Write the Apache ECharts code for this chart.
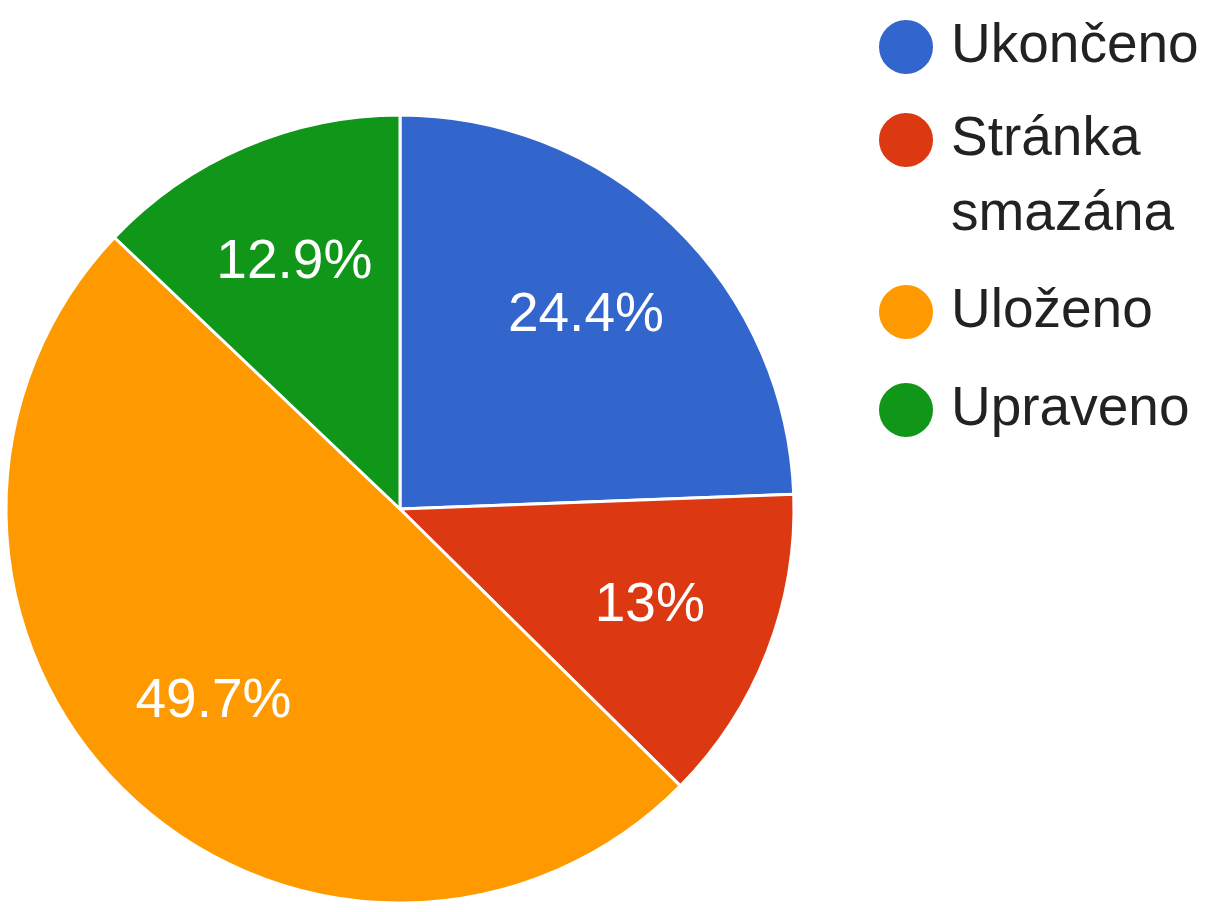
<!DOCTYPE html>
<html>
<head>
<meta charset="utf-8">
<script src="https://cdn.jsdelivr.net/npm/echarts@6/dist/echarts.min.js"></script>
<style>
  html, body { margin: 0; padding: 0; background: #fff; }
  #chart { width: 1208px; height: 912px; }
</style>
</head>
<body>
<div id="chart"></div>
<script>
var categories = ['Ukončeno', 'Stránka smazána', 'Uloženo', 'Upraveno'];
var values = [24.4, 13, 49.7, 12.9];
var colors = ['#3366cc', '#dc3912', '#ff9900', '#109618'];

var font = '"Liberation Sans", Arial, sans-serif';
var chart = echarts.init(document.getElementById('chart'));

var pieData = categories.map(function (name, i) {
    return { name: name, value: values[i] };
});

// one legend block per entry, so the wrapped entry keeps its dot on the first line
var legendTops = [17, 27.5, 282, 380];
var legends = categories.map(function (name, i) {
    var wrapped = name.indexOf(' ') > 0;
    return {
        orient: 'vertical',
        left: 877,
        top: legendTops[i],
        padding: 0,
        icon: 'circle',
        itemWidth: 80,
        itemHeight: 56,
        selectedMode: false,
        data: [name],
        // empty first line keeps the dot level with "Stránka"
        formatter: function (n) { return wrapped ? '\n' + n.replace(' ', '\n') : n; },
        textStyle: {
            color: '#222', fontSize: 55, fontFamily: font,
            lineHeight: wrapped ? 75 : 60
        }
    };
});

var option = {
    backgroundColor: '#fff',
    color: colors,
    animation: false,
    legend: legends,
    series: [
        {
            type: 'pie',
            center: [400, 509],
            radius: [0, 394],
            startAngle: 90,
            clockwise: true,
            silent: true,
            itemStyle: { borderColor: '#fff', borderWidth: 3 },
            label: { show: false },
            labelLine: { show: false },
            data: pieData
        },
        {
            // invisible ring only to place the percent labels further out
            type: 'pie',
            center: [400, 509],
            radius: [136, 394],
            startAngle: 90,
            clockwise: true,
            silent: true,
            itemStyle: { color: 'rgba(0,0,0,0)' },
            label: {
                show: true,
                position: 'inside',
                color: '#fff',
                fontSize: 55,
                fontFamily: font,
                formatter: function (p) { return p.value + '%'; }
            },
            labelLine: { show: false },
            data: pieData
        }
    ]
};
chart.setOption(option);
</script>
</body>
</html>
